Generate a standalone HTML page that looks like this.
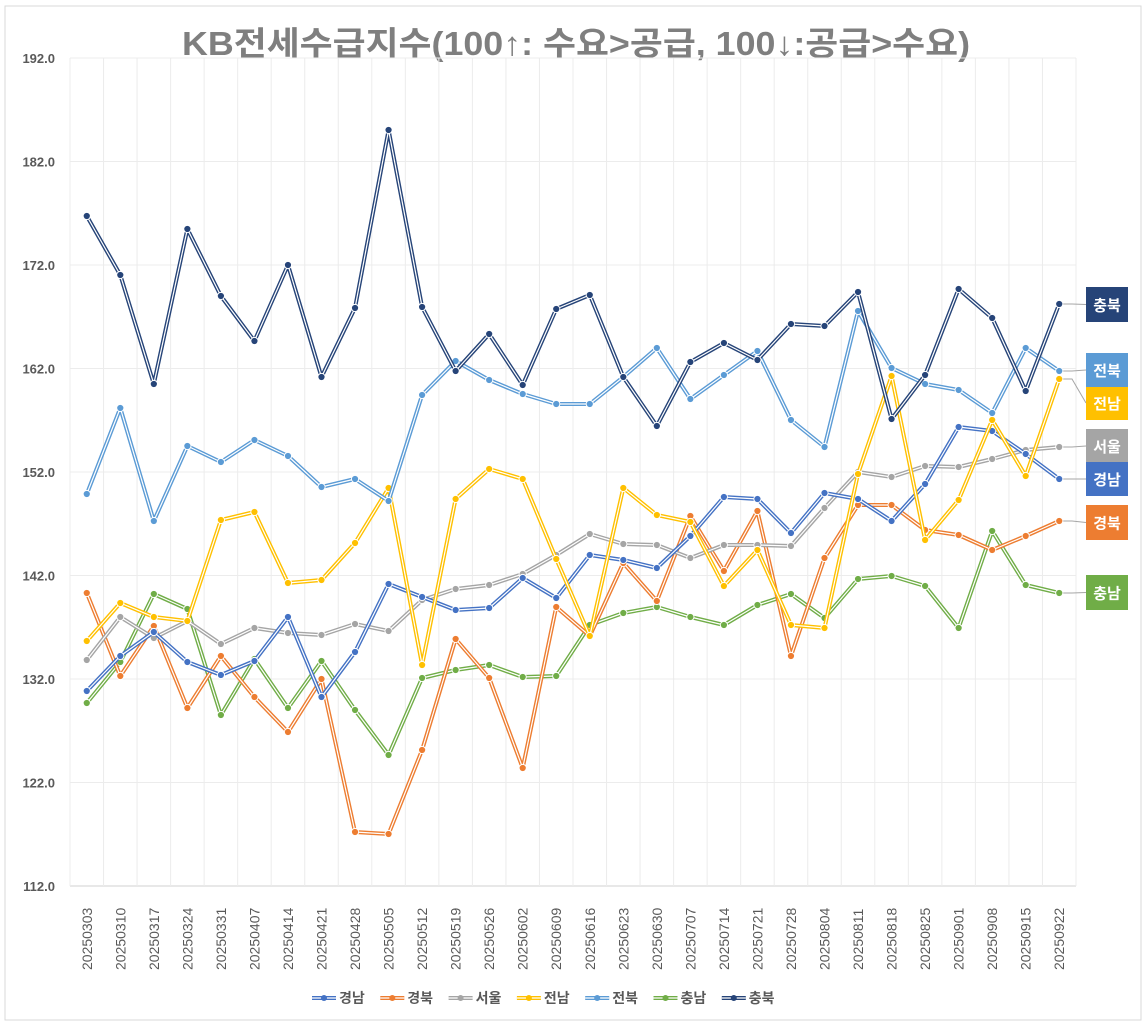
<!DOCTYPE html>
<html><head><meta charset="utf-8"><style>
html,body{margin:0;padding:0;background:#fff;}
svg{display:block;font-family:"Liberation Sans","Noto Sans CJK KR",sans-serif;}
</style></head><body>
<svg id="c" width="1148" height="1024" viewBox="0 0 1148 1024" xmlns="http://www.w3.org/2000/svg">
<rect x="5" y="6" width="1136" height="1014" fill="#fff" stroke="#d9d9d9"/>
<text x="182" y="55" textLength="788" lengthAdjust="spacingAndGlyphs" font-size="33" font-weight="bold" fill="#7f7f7f" font-family="Liberation Sans, Noto Sans CJK KR, sans-serif">KB전세수급지수(100↑: 수요&gt;공급, 100↓:공급&gt;수요)</text>
<g id="g"></g>
</svg>
<script>
const NS="http://www.w3.org/2000/svg",g=document.getElementById('g');
function el(t,a,txt){const e=document.createElementNS(NS,t);for(const k in a)e.setAttribute(k,a[k]);if(txt!==undefined)e.textContent=txt;g.appendChild(e);return e;}
const x0=70,x1=1076,y0=58,y1=886,n=30,step=(x1-x0)/n;
const cx=i=>x0+step*(i+0.5);
for(let k=0;k<=8;k++){const y=y0+(y1-y0)*k/8;el('line',{x1:x0,x2:x1,y1:y,y2:y,stroke:k==8?'#d0d0d0':'#ececec','stroke-width':1});
el('text',{x:55,y:y+5,'text-anchor':'end','font-size':13,'font-weight':'bold',fill:'#595959'},(192-10*k).toFixed(1));}
for(let i=0;i<=n;i++){const x=x0+step*i;el('line',{x1:x,x2:x,y1:y0,y2:y1,stroke:'#ececec','stroke-width':1});}
const dates=["20250303","20250310","20250317","20250324","20250331","20250407","20250414","20250421","20250428","20250505","20250512","20250519","20250526","20250602","20250609","20250616","20250623","20250630","20250707","20250714","20250721","20250728","20250804","20250811","20250818","20250825","20250901","20250908","20250915","20250922"];
dates.forEach((d,i)=>{const x=cx(i)+5,y=970;el('text',{x:x,y:y,transform:`rotate(-90 ${x} ${y})`,'font-size':14,fill:'#595959'},d);});
const S=[
["충남","#70AD47",[703,662,594,609,715,659,708,661,710,755,678,670,665,677,676,625,613,607,617,625,605,594,618,579,576,586,628,531,585,593],[575,610]],
["경북","#ED7D31",[593,676,626,708,656,697,732,679,832,834,750,639,678,768,607,636,563,601,516,571,511,656,558,505,505,530,535,550,536,521],[505,540]],
["서울","#A5A5A5",[660,617,638,621,644,628,633,635,624,631,600,589,585,574,555,534,544,545,558,545,545,546,508,472,477,466,467,459,450,447],[429,463]],
["경남","#4472C4",[691,656,632,662,675,661,617,697,652,584,597,610,608,578,598,555,560,568,536,497,499,533,493,499,521,484,427,431,454,479],[462,496]],
["전남","#FFC000",[641,603,617,621,520,512,583,580,543,488,665,499,469,479,559,636,488,515,522,586,550,625,628,474,376,540,500,420,476,379],[386,420]],
["전북","#5B9BD5",[494,408,521,446,462,440,456,487,479,501,395,361,380,394,404,404,377,348,399,375,351,420,447,311,368,384,390,413,348,371],[353,387]],
["충북","#264478",[216,275,384,229,296,341,265,377,308,130,307,371,334,385,309,295,377,426,362,343,360,324,326,292,419,375,289,318,391,304],[287,322]]];
S.forEach(([nm,c,v,b])=>{
 const pts=v.map((y,i)=>cx(i).toFixed(1)+','+y).join(' ');
 el('polyline',{points:pts,fill:'none',stroke:c,'stroke-width':4,'stroke-linejoin':'round'});
 el('polyline',{points:pts,fill:'none',stroke:'#fff','stroke-width':1.2,'stroke-linejoin':'round'});
 v.forEach((y,i)=>el('circle',{cx:cx(i),cy:y,r:3.6,fill:c,stroke:'#fff','stroke-width':1}));
 const ly=v[29],bm=(b[0]+b[1])/2;
 el('polyline',{points:`${cx(29)+4},${ly} 1072,${ly} 1086,${bm}`,fill:'none',stroke:'#a6a6a6','stroke-width':1});
 el('rect',{x:1086,y:b[0],width:42,height:b[1]-b[0],fill:c});
 el('text',{x:1107,y:bm+6,'text-anchor':'middle','font-size':15,'font-weight':'bold',fill:'#fff'},nm);
});
const L=[["경남","#4472C4"],["경북","#ED7D31"],["서울","#A5A5A5"],["전남","#FFC000"],["전북","#5B9BD5"],["충남","#70AD47"],["충북","#264478"]];
L.forEach(([nm,c],i)=>{const x=312+i*68.3,y=998;
 el('line',{x1:x,x2:x+24,y1:y,y2:y,stroke:c,'stroke-width':4});
 el('line',{x1:x,x2:x+24,y1:y,y2:y,stroke:'#fff','stroke-width':1.2});
 el('circle',{cx:x+12,cy:y,r:3,fill:c});
 el('text',{x:x+27,y:y+5,'font-size':14,'font-weight':'bold',fill:'#595959'},nm);});
</script>
</body></html>
